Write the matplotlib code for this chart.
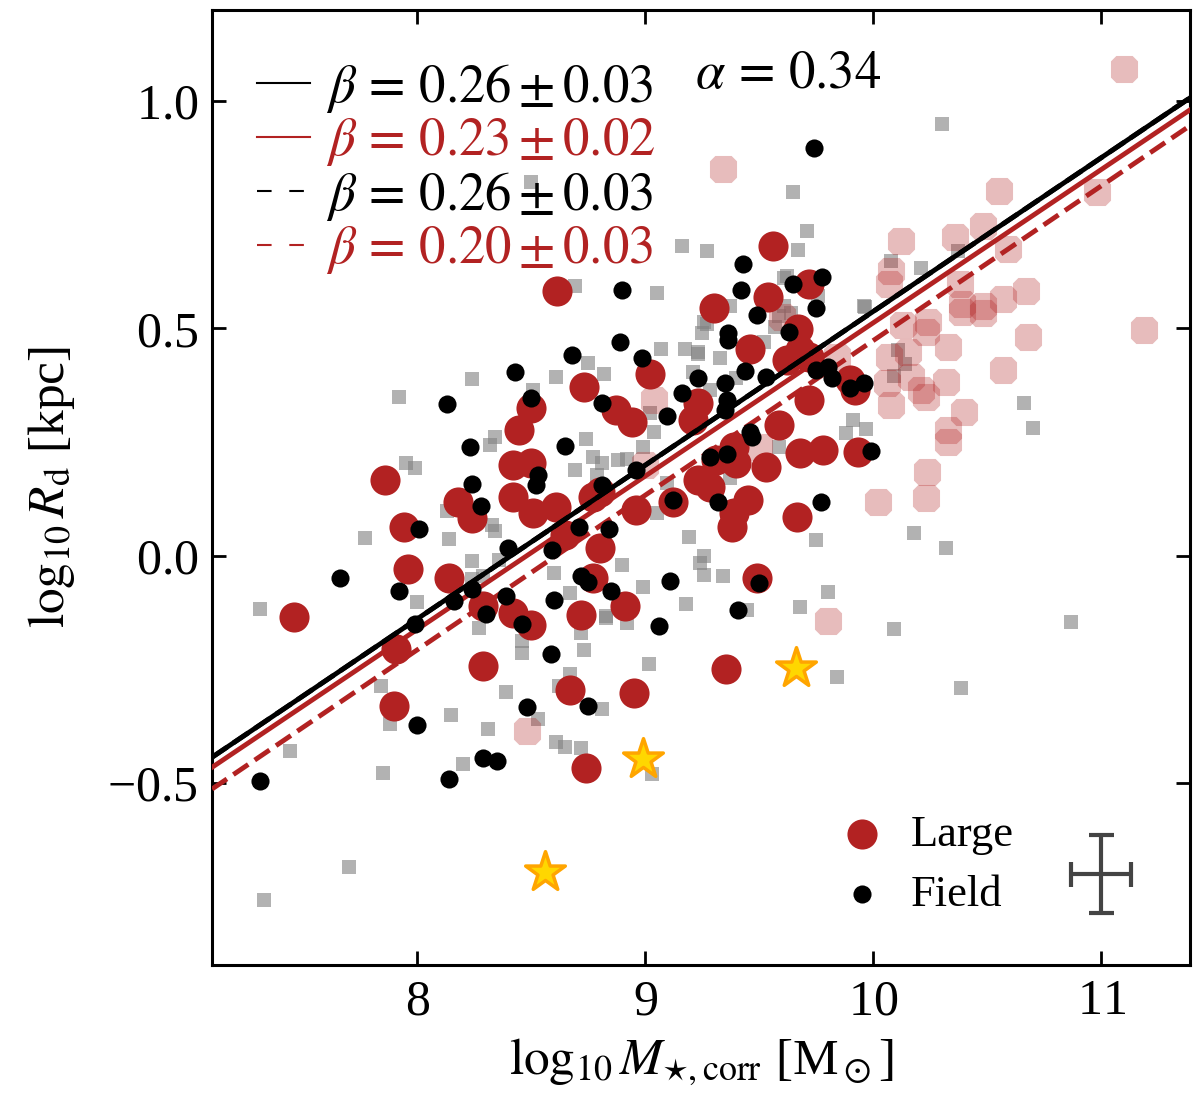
import numpy as np
import matplotlib
matplotlib.use("Agg")
import matplotlib.pyplot as plt
from matplotlib.lines import Line2D

plt.rcParams['font.family'] = ['Liberation Serif', 'DejaVu Serif']
plt.rcParams['mathtext.fontset'] = 'stix'
plt.rcParams['axes.formatter.use_mathtext'] = True

# --- data ---
large_x = [7.46, 7.858, 7.94, 7.96, 7.905, 7.90, 8.14, 8.18, 8.24, 8.29, 8.29, 8.42,
           8.50, 8.446, 8.42, 8.50, 8.42, 8.51, 8.50, 8.61, 8.72, 8.91, 8.67, 8.953,
           8.74, 9.355, 8.615, 9.30, 9.02, 8.73, 8.87, 8.94, 9.56, 9.72, 9.54, 9.46,
           9.67, 9.68, 9.62, 9.72, 9.90, 9.92, 9.935, 9.72, 9.23, 9.21, 9.585, 9.39,
           9.68, 9.78, 9.53, 9.40, 9.23, 9.285, 9.45, 9.39, 9.38, 9.665, 9.12, 8.96,
           8.80, 8.77, 8.80, 8.65, 8.77, 9.49, 9.31]
large_y = [-0.135, 0.167, 0.064, -0.029, -0.206, -0.33, -0.048, 0.119, 0.083, -0.243, -0.111, -0.125,
           -0.152, 0.276, 0.20, 0.203, 0.13, 0.094, 0.324, 0.108, -0.131, -0.11, -0.295, -0.301,
           -0.466, -0.248, 0.583, 0.545, 0.40, 0.37, 0.32, 0.295, 0.68, 0.598, 0.568, 0.455,
           0.499, 0.452, 0.43, 0.437, 0.386, 0.364, 0.229, 0.342, 0.335, 0.298, 0.287, 0.24,
           0.225, 0.232, 0.196, 0.203, 0.167, 0.152, 0.123, 0.094, 0.064, 0.086, 0.119, 0.101,
           0.141, 0.13, 0.017, 0.046, -0.049, -0.049, 0.21]

field_x = [8.43, 8.13, 8.50, 8.23, 8.24, 8.28, 8.53, 8.52, 8.01, 7.66, 7.92, 8.40,
           8.24, 8.16, 8.39, 8.30, 8.46, 7.99, 8.59, 8.60, 8.585, 7.31, 8.0, 8.48,
           8.75, 9.06, 8.14, 8.29, 8.35, 9.405, 9.74, 9.43, 9.42, 9.65, 9.775, 9.75,
           9.49, 9.365, 9.365, 9.63, 9.44, 9.23, 9.35, 9.53, 9.75, 9.80, 9.82, 9.96,
           9.90, 9.99, 8.89, 8.68, 8.985, 8.90, 8.81, 9.16, 9.095, 9.36, 9.35, 9.46,
           9.47, 8.65, 9.285, 9.36, 8.96, 8.81, 9.12, 9.32, 9.77, 8.71, 8.84, 8.72,
           8.75, 8.85, 9.11, 9.50]
field_y = [0.403, 0.333, 0.346, 0.238, 0.157, 0.11, 0.178, 0.156, 0.058, -0.048, -0.078, 0.017,
           -0.073, -0.10, -0.088, -0.129, -0.151, -0.151, 0.013, -0.098, -0.216, -0.495, -0.373, -0.332,
           -0.33, -0.155, -0.49, -0.444, -0.452, -0.12, 0.896, 0.642, 0.585, 0.598, 0.612, 0.544,
           0.53, 0.49, 0.475, 0.492, 0.406, 0.39, 0.379, 0.392, 0.408, 0.415, 0.39, 0.379,
           0.368, 0.23, 0.47, 0.441, 0.434, 0.585, 0.335, 0.357, 0.307, 0.342, 0.32, 0.273,
           0.262, 0.241, 0.218, 0.223, 0.189, 0.156, 0.123, 0.119, 0.119, 0.064, 0.058, -0.045,
           -0.058, -0.078, -0.056, -0.06]

other_x = [8.24, 7.92, 8.51, 8.34, 8.32, 7.95, 7.99, 8.13, 8.33, 8.34, 7.77, 8.14,
           8.24, 8.36, 8.24, 8.29, 8.0, 7.31, 8.27, 8.46, 8.46, 8.60, 8.72, 8.73,
           8.83, 8.92, 9.016, 9.18, 8.39, 8.67, 8.62, 8.53, 8.31, 8.15, 7.88, 7.84,
           7.44, 7.85, 8.20, 8.61, 8.65, 8.72, 8.81, 9.03, 7.70, 7.33, 9.446, 9.68,
           10.09, 10.87, 9.84, 10.385, 9.965, 10.11, 10.14, 10.09, 10.66, 10.70, 9.97, 9.91,
           10.18, 10.32, 10.30, 9.65, 9.71, 9.27, 9.67, 9.62, 10.21, 9.96, 10.37, 10.08,
           9.76, 9.61, 9.61, 9.64, 9.26, 9.37, 9.25, 9.23, 9.33, 9.52, 9.57, 9.07,
           9.175, 9.23, 9.27, 8.75, 8.82, 8.61, 9.21, 9.285, 9.40, 9.585, 9.02, 9.04,
           8.99, 8.74, 8.77, 8.81, 8.88, 8.92, 8.69, 8.79, 9.37, 9.05, 9.095, 9.88,
           9.585, 9.19, 9.26, 9.24, 9.26, 9.34, 8.90, 8.99, 8.67, 8.83, 9.75, 9.80,
           8.50, 9.16, 8.69, 9.05]
other_y = [0.388, 0.349, 0.364, 0.262, 0.243, 0.203, 0.192, 0.099, 0.068, 0.055, 0.039, 0.037,
           -0.011, -0.009, -0.051, -0.045, -0.102, -0.117, -0.16, -0.188, -0.213, -0.038, -0.17, -0.208,
           -0.137, -0.148, -0.239, -0.107, -0.30, -0.261, -0.287, -0.36, -0.38, -0.351, -0.371, -0.287,
           -0.43, -0.478, -0.458, -0.409, -0.42, -0.422, -0.336, -0.48, -0.684, -0.758, -0.12, -0.113,
           -0.161, -0.146, -0.267, -0.29, 0.547, 0.452, 0.421, 0.395, 0.336, 0.28, 0.278, 0.298,
           0.051, 0.018, 0.95, 0.80, 0.715, 0.67, 0.673, 0.616, 0.633, 0.55, 0.671, 0.649,
           0.57, 0.61, 0.55, 0.534, 0.514, 0.55, 0.49, 0.448, 0.434, 0.47, 0.503, 0.455,
           0.455, 0.444, 0.51, 0.423, 0.399, 0.393, 0.405, 0.364, 0.39, 0.528, 0.313, 0.273,
           0.24, 0.256, 0.218, 0.203, 0.21, 0.212, 0.189, 0.178, 0.17, 0.094, 0.159, 0.269,
           0.24, 0.041, -0.001, -0.016, -0.042, -0.045, -0.02, -0.069, -0.083, -0.133, 0.035, -0.08,
           0.821, 0.682, 0.593, 0.578]

pink_x = [11.10, 9.34, 10.55, 10.98, 10.12, 10.36, 10.48, 10.08, 10.07, 10.59, 10.67, 10.57,
          10.38, 10.39, 10.48, 11.19, 10.39, 10.48, 10.68, 10.24, 10.23, 10.13, 10.33, 10.155,
          10.07, 10.06, 10.165, 10.32, 10.21, 10.23, 10.08, 10.57, 10.40, 10.33, 10.33, 10.235,
          10.23, 10.02, 9.80, 8.48, 9.04, 9.50, 9.84, 9.60, 9.0]
pink_y = [1.07, 0.85, 0.803, 0.80, 0.693, 0.70, 0.726, 0.627, 0.598, 0.675, 0.583, 0.565,
          0.598, 0.554, 0.55, 0.496, 0.536, 0.534, 0.482, 0.514, 0.492, 0.507, 0.46, 0.448,
          0.437, 0.379, 0.393, 0.382, 0.365, 0.35, 0.331, 0.408, 0.316, 0.276, 0.251, 0.185,
          0.127, 0.119, -0.143, -0.385, 0.342, 0.24, 0.437, 0.525, 0.2]

star_x = [8.56, 8.99, 9.66]
star_y = [-0.696, -0.446, -0.246]

# fitted relations: value at x=9 and slope
fit_labels = [r'$\beta\,=\,0.26 \pm 0.03$', r'$\beta\,=\,0.23 \pm 0.02$',
              r'$\beta\,=\,0.26 \pm 0.03$', r'$\beta\,=\,0.20 \pm 0.03$']
fit_y9 = [0.199, 0.175, 0.199, 0.133]
fit_slope = [0.338, 0.337, 0.338, 0.34]
fit_colors = ['black', '#b22222', 'black', '#b22222']
fit_styles = ['-', '-', '--', '--']

err_x, err_y = 11.0, -0.70
err_dx, err_dy = 0.13, 0.085

# --- figure ---
fig = plt.figure(figsize=(12, 10.95), dpi=100)
ax = fig.add_axes([0.1767, 0.1187, 0.815, 0.8722])

rsq = [(-0.5, -0.3), (-0.3, -0.5), (0.3, -0.5), (0.5, -0.3),
       (0.5, 0.3), (0.3, 0.5), (-0.3, 0.5), (-0.5, 0.3), (-0.5, -0.3)]

ax.scatter(other_x, other_y, marker='s', s=95, color='gray', alpha=0.6, lw=0, zorder=1)
ax.scatter(pink_x, pink_y, marker=rsq, s=380, color='#b22222', alpha=0.3, lw=0, zorder=2)
ax.scatter(large_x, large_y, marker='o', s=470, color='#b22222', lw=0, zorder=3,
           label='Large')
ax.scatter(field_x, field_y, marker='o', s=170, color='black', lw=0, zorder=5,
           label='Field')
ax.scatter(star_x, star_y, marker='*', s=900, facecolor='gold', edgecolor='orange',
           lw=2.5, zorder=6)

xx = np.array([7.1, 11.4])
handles = []
for y9, sl, c, ls, lab in zip(fit_y9, fit_slope, fit_colors, fit_styles, fit_labels):
    ax.plot(xx, y9 + sl * (xx - 9), color=c, ls=ls, lw=3.5, zorder=4)
    h = Line2D([], [], color=c, lw=1.5, label=lab)
    if ls == '--':
        h.set_dashes((7, 8.5))
    handles.append(h)

ax.errorbar(err_x, err_y, xerr=err_dx, yerr=err_dy, color='#444444', lw=3,
            capsize=9, capthick=3, zorder=6)

leg1 = ax.legend(handles=handles, loc='upper left', bbox_to_anchor=(0.046, 0.946),
                 frameon=False, fontsize=38, handlelength=1.0, handletextpad=0.3,
                 labelspacing=0.03, borderpad=0, borderaxespad=0, labelcolor='linecolor')
ax.add_artist(leg1)
ax.legend(loc='center left', bbox_to_anchor=(0.642, 0.105), frameon=False, fontsize=32,
          handlelength=1.0, handletextpad=0.6, labelspacing=0.45, borderpad=0,
          borderaxespad=0, scatterpoints=1)

ax.text(0.494, 0.932, r'$\alpha\,=\,0.34$', transform=ax.transAxes, fontsize=38,
        ha='left', va='center')

ax.set_xlim(7.1, 11.39)
ax.set_ylim(-0.9, 1.2)
ax.set_xticks([8, 9, 10, 11])
ax.set_yticks([-0.5, 0.0, 0.5, 1.0])
ax.tick_params(direction='in', top=True, right=True, length=10, width=2,
               labelsize=36, pad=10)
for sp in ax.spines.values():
    sp.set_linewidth(2.2)

ax.set_xlabel(r'$\log_{10}M_{\star,{\rm corr}}$ [M$_\odot$]', fontsize=37, labelpad=8)
ax.set_ylabel(r'$\log_{10}R_{\rm d}$ [kpc]', fontsize=37, labelpad=22)

fig.savefig('out.png', dpi=100)
